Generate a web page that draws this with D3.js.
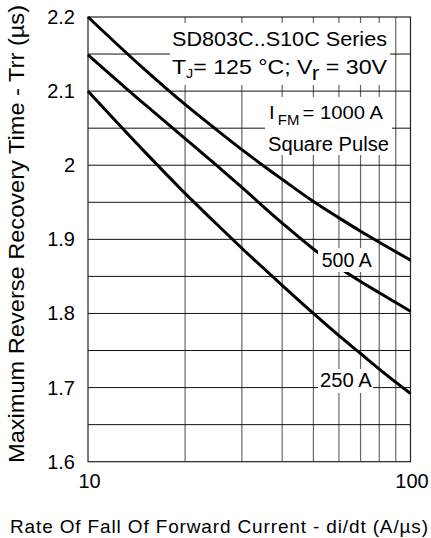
<!DOCTYPE html>
<html>
<head>
<meta charset="utf-8">
<script src="https://cdn.jsdelivr.net/npm/d3@7"></script>
<style>
  body { margin: 0; background: #fff; }
  text { font-family: "Liberation Sans", Arial, sans-serif; fill: #000; }
</style>
</head>
<body>
<div id="chart"></div>
<script>
// data
const rates = [10, 15, 20, 25, 30, 40, 50, 60, 70, 80, 100];
const trr1000 = [2.200, 2.129, 2.082, 2.048, 2.021, 1.981, 1.951, 1.929, 1.911, 1.896, 1.872];
const trr500 = [2.149, 2.082, 2.036, 2.000, 1.970, 1.922, 1.887, 1.862, 1.843, 1.828, 1.803];
const trr250 = [2.100, 2.018, 1.962, 1.921, 1.888, 1.838, 1.800, 1.770, 1.746, 1.725, 1.692];
const xTicks = [10, 100];
const yTicks = [1.6, 1.7, 1.8, 1.9, 2, 2.1, 2.2];
const xGrid = [20, 30, 40, 50, 60, 70, 80, 90];
const yGrid = [1.65, 1.7, 1.75, 1.8, 1.85, 1.9, 1.95, 2, 2.05, 2.1, 2.15];

// set the dimensions and margins of the graph
const W = 431, H = 538;
const margin = {top: 17, right: 20.5, bottom: 76.3, left: 88},
    width = W - margin.left - margin.right,
    height = H - margin.top - margin.bottom;

const x = d3.scaleLog().domain([10, 100]).range([0, width]);
const y = d3.scaleLinear().domain([1.6, 2.2]).range([height, 0]);

const svg = d3.select("#chart")
    .append("svg")
        .attr("width", W)
        .attr("height", H)
    .append("g")
        .attr("transform", `translate(${margin.left}, ${margin.top})`);

// vertical gridlines
svg.selectAll(".xGrid")
    .data(xGrid)
    .join("line")
    .attr("x1", d => x(d))
    .attr("x2", d => x(d))
    .attr("y1", 0)
    .attr("y2", height)
    .attr("stroke", "#666")
    .attr("stroke-width", 1.2);

// horizontal gridlines
svg.selectAll(".yGrid")
    .data(yGrid)
    .join("line")
    .attr("x1", 0)
    .attr("x2", width)
    .attr("y1", d => y(d))
    .attr("y2", d => y(d))
    .attr("stroke", "#111")
    .attr("stroke-width", 1);

// frame
svg.append("rect")
    .attr("width", width)
    .attr("height", height)
    .attr("fill", "none")
    .attr("stroke", "#222")
    .attr("stroke-width", 1.2);

// curves
const line = d3.line()
    .x(d => x(d[0]))
    .y(d => y(d[1]))
    .curve(d3.curveMonotoneX);

[trr1000, trr500, trr250].forEach(series => {
    svg.append("path")
        .datum(rates.map((r, i) => [r, series[i]]))
        .attr("fill", "none")
        .attr("stroke", "#000")
        .attr("stroke-width", 3)
        .attr("d", line);
});

// white boxes behind the notes
const boxes = [
    [82, 6, 220, 62],
    [177, 80, 127, 58],
    [230, 231, 57, 24],
    [230, 352, 55, 24]
];
svg.selectAll(".box")
    .data(boxes)
    .join("rect")
    .attr("x", d => d[0])
    .attr("y", d => d[1])
    .attr("width", d => d[2])
    .attr("height", d => d[3])
    .attr("fill", "#fff");

// notes
svg.append("text")
    .attr("x", 84).attr("y", 28.5)
    .attr("font-size", 21)
    .attr("textLength", 215).attr("lengthAdjust", "spacingAndGlyphs")
    .text("SD803C..S10C Series");

const t2 = svg.append("text")
    .attr("x", 84).attr("y", 57)
    .attr("font-size", 21)
    .attr("textLength", 215).attr("lengthAdjust", "spacingAndGlyphs");
t2.append("tspan").text("T");
t2.append("tspan").attr("font-size", 13).attr("dy", 4).text("J");
t2.append("tspan").attr("dy", -4).text("= 125 °C; V");
t2.append("tspan").attr("dy", 6).text("r");
t2.append("tspan").attr("dy", -6).text(" = 30V");

const t3 = svg.append("text")
    .attr("x", 181).attr("y", 101.5)
    .attr("font-size", 19)
    .attr("textLength", 114).attr("lengthAdjust", "spacingAndGlyphs");
t3.append("tspan").text("I");
t3.append("tspan").attr("font-size", 14).attr("dx", 3).attr("dy", 6).text("FM");
t3.append("tspan").attr("dx", 3).attr("dy", -6).text("= 1000 A");

svg.append("text")
    .attr("x", 180).attr("y", 134)
    .attr("font-size", 20)
    .attr("textLength", 121).attr("lengthAdjust", "spacingAndGlyphs")
    .text("Square Pulse");

svg.append("text")
    .attr("x", 233.7).attr("y", 250)
    .attr("font-size", 20)
    .attr("textLength", 50).attr("lengthAdjust", "spacingAndGlyphs")
    .text("500 A");

svg.append("text")
    .attr("x", 232).attr("y", 370)
    .attr("font-size", 20)
    .attr("textLength", 51.7).attr("lengthAdjust", "spacingAndGlyphs")
    .text("250 A");

// y tick labels
svg.selectAll(".yLabel")
    .data(yTicks)
    .join("text")
    .attr("x", -13)
    .attr("y", d => y(d))
    .attr("dy", "0.35em")
    .attr("text-anchor", "end")
    .attr("font-size", 20)
    .text(d => d3.format("")(d));

// x tick labels
svg.selectAll(".xLabel")
    .data(xTicks)
    .join("text")
    .attr("x", d => x(d) + 1.5)
    .attr("y", height + 26)
    .attr("text-anchor", "middle")
    .attr("font-size", 20)
    .text(d => d);

// x-axis label
svg.append("text")
    .attr("x", 10 - margin.left)
    .attr("y", height + 71)
    .attr("font-size", 19)
    .attr("textLength", 418).attr("lengthAdjust", "spacing")
    .text("Rate Of Fall Of Forward Current - di/dt (A/µs)");

// y-axis label
svg.append("text")
    .attr("transform", "rotate(-90)")
    .attr("x", -(463 - margin.top))
    .attr("y", 24 - margin.left)
    .attr("font-size", 22)
    .attr("textLength", 458).attr("lengthAdjust", "spacingAndGlyphs")
    .text("Maximum Reverse Recovery Time - Trr (µs)");
</script>
</body>
</html>
